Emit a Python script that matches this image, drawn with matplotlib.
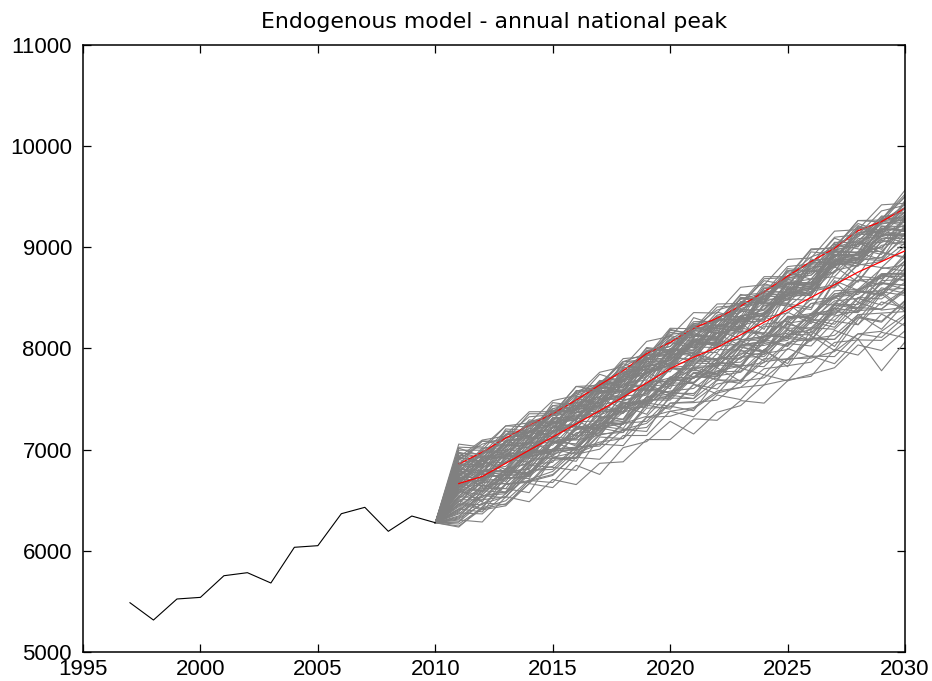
import matplotlib
matplotlib.use("Agg")
import matplotlib.pyplot as plt
import numpy as np

plt.rcParams["font.family"] = ["Liberation Sans", "DejaVu Sans"]

# Observed annual national peak (MW)
years_hist = list(range(1997, 2011))
peak_hist = [5487, 5316, 5524, 5540, 5754, 5784, 5682, 6035, 6051, 6367,
             6430, 6193, 6344, 6278]

# Simulation horizon
years_sim = list(range(2011, 2031))

# Ensemble mean and upper band of the simulated peaks (MW)
sim_mean = [6665, 6735, 6865, 6995, 7125, 7255, 7385, 7520, 7660, 7800,
            7915, 8010, 8135, 8260, 8380, 8505, 8630, 8755, 8860, 8965]
sim_upper = [6858, 6975, 7115, 7240, 7355, 7490, 7640, 7780, 7950, 8060,
             8200, 8300, 8420, 8560, 8715, 8860, 8990, 9165, 9255, 9385]

# Individual simulated paths, as anomalies from the ensemble mean (MW)
sim_anomaly = [
    [40, 130, 10, 90, 190, 70, 100, 210, 170, 80, 190, 270, 160, 230, 300, 220, 280, 370, 290, 250],
    [-150, -60, -200, -130, -30, -160, -240, -110, -170, -310, -200, -240, -360, -270, -260, -420, -310, -380, -470, -400],
    [210, 160, 180, 80, 170, 260, 220, 100, 150, 290, 310, 250, 260, 200, 320, 360, 270, 350, 410, 430],
    [-320, -190, -280, -140, -250, -90, -210, -60, -180, -100, -130, -260, -110, -230, -280, -200, -230, -170, -210, -340],
    [20, 90, 70, -70, 40, 0, 60, -40, -100, 10, 50, -50, 70, -110, 30, 90, -30, 80, -60, 50],
    [330, 260, 370, 230, 210, 280, 240, 300, 280, 340, 250, 400, 290, 430, 320, 470, 370, 510, 410, 600],
    [-80, -180, -90, -220, -130, -260, -120, -50, -210, -100, -250, -150, -300, -170, -350, -220, -390, -260, -430, -380],
    [120, 40, 160, 180, 130, 90, -60, 80, -20, 30, 140, 50, -40, 100, 150, 80, 0, 130, 10, 170],
    [-250, -350, -210, -310, -380, -290, -330, -480, -340, -470, -510, -450, -520, -620, -480, -600, -660, -610, -690, -630],
    [160, 230, 210, 260, 220, 130, 250, 280, 240, 140, 260, 140, 280, 310, 270, 180, 300, 170, 320, 200],
    [-30, 40, 10, 70, 140, 80, -20, 30, 110, 60, 140, 210, 150, 70, 160, 100, 190, 120, 40, 130],
    [-180, -110, -150, -260, -200, -280, -210, -150, -220, -170, -250, -190, -100, -190, -130, -60, -140, -80, -170, -100],
    [60, -10, -110, -60, -140, -90, -170, -100, -10, -90, -40, -110, -200, -140, -230, -160, -250, -200, -290, -230],
    [280, 190, 250, 180, 240, 320, 270, 350, 290, 220, 290, 370, 310, 250, 330, 400, 360, 430, 380, 460],
    [-120, -50, 40, -20, 60, -10, 80, 20, 100, 40, -40, 30, -40, 50, -30, 60, -20, 70, 0, 80],
    [-400, -310, -370, -290, -340, -260, -310, -410, -340, -420, -500, -430, -520, -460, -550, -640, -570, -670, -780, -710],
    [90, 170, 110, 190, 130, 200, 140, 220, 160, 80, 160, 90, 180, 120, 210, 150, 240, 170, 260, 200],
    [-60, -140, -60, -130, -50, -110, -40, -100, -190, -120, -210, -140, -50, -140, -70, -160, -90, -180, -120, -220],
    [240, 320, 250, 170, 240, 180, 80, 160, 90, 170, 100, 0, 90, 30, 120, 50, 140, 70, 160, 90],
    [-220, -140, -50, -130, -60, -140, -70, -160, -80, -170, -90, -180, -110, -200, -130, -220, -160, -260, -190, -280],
    [10, -70, 40, 120, 50, 140, 60, 180, 90, 170, 110, 220, 120, 200, 160, 260, 170, 280, 190, 300],
    [-290, -370, -300, -210, -290, -230, -330, -260, -330, -240, -360, -280, -370, -310, -390, -300, -440, -350, -470, -380],
    [140, 60, -30, 40, -40, 50, -50, 40, -60, 10, -80, 10, -90, -20, -110, -20, -130, -40, -170, -60],
    [-100, -20, -100, -30, -120, -50, -140, -70, -160, -90, -20, -110, -50, -140, -80, -180, -120, -220, -150, -250],
    [190, 120, 200, 280, 220, 300, 240, 160, 240, 180, 260, 200, 280, 230, 310, 260, 340, 280, 370, 310],
    [-40, 40, 130, 70, -20, 60, -10, -100, -30, -110, -50, -130, -70, -150, -90, -180, -110, -200, -140, -230],
    [40, -40, 20, -50, 40, 110, 50, 120, 60, 130, 70, 140, 80, 160, 100, 180, 120, 200, 140, 230],
    [-350, -270, -330, -240, -170, -240, -180, -250, -190, -260, -200, -280, -220, -300, -240, -320, -260, -350, -280, -370],
    [300, 220, 280, 210, 280, 210, 290, 230, 310, 250, 330, 270, 350, 290, 380, 320, 410, 350, 440, 380],
    [-160, -230, -160, -70, -140, -60, -130, -220, -140, -220, -310, -230, -310, -400, -320, -410, -500, -420, -510, -600],
    [70, 150, 80, -10, 60, 0, 110, 30, 90, 40, 130, 30, 150, 80, 140, 60, 200, 100, 190, 150],
    [-260, -160, -90, -180, -60, -150, -80, -140, -40, -150, -60, -160, -50, -180, -70, -200, -90, -190, -130, -220],
    [110, 210, 280, 190, 310, 210, 120, 240, 140, 50, 170, 70, 190, 90, 210, 110, 240, 140, 270, 170],
    [-10, -90, -200, -110, -190, -120, -220, -110, -240, -140, -260, -160, -270, -210, -300, -220, -350, -250, -370, -310],
    [360, 280, 180, 270, 210, 110, 230, 130, 250, 150, 270, 170, 290, 190, 320, 220, 350, 250, 380, 280],
    [-200, -280, -210, -300, -370, -300, -380, -320, -400, -340, -440, -360, -450, -390, -480, -420, -540, -440, -590, -490],
    [30, 110, 220, 140, 220, 160, 260, 160, 280, 180, 280, 220, 310, 250, 340, 280, 370, 310, 400, 340],
    [-130, -210, -140, -30, -140, -40, -110, -30, -120, 0, -110, -180, -100, -190, -70, -180, -60, -170, -70, -140],
    [250, 150, 80, 150, 90, 160, 80, 200, 100, 40, 120, 60, 140, 80, 160, 100, 190, 130, 220, 160],
    [-420, -320, -400, -330, -230, -340, -240, -330, -440, -340, -450, -520, -460, -550, -490, -580, -710, -610, -750, -650],
    [0, 150, -60, 180, -20, 200, -30, 160, -80, 120, 250, 10, 190, -70, 230, 20, 270, -40, 210, 60],
    [170, -30, 120, -80, 100, -120, 60, -150, 80, -200, 40, -130, 120, -180, 70, -240, 30, -300, -60, -200],
    [-70, 60, -120, -240, -50, -260, -60, -220, -20, -280, -110, -330, -150, -380, -190, -430, -230, -520, -320, -600],
    [230, 350, 220, 360, 230, 370, 250, 380, 260, 400, 280, 430, 310, 450, 330, 480, 360, 510, 390, 540],
    [-300, -180, -110, -230, -120, -240, -130, -260, -140, -280, -160, -290, -180, -320, -200, -350, -230, -390, -260, -420],
    [80, 180, 60, 190, 60, -60, 110, -20, 130, 0, 160, 10, 170, 20, 200, 30, 230, 60, 250, 80],
    [-230, -120, -250, -110, 0, -150, -10, -140, 20, -130, 30, -120, 40, -110, 60, -100, 70, -90, 90, -70],
    [150, 260, 130, 30, 170, 40, 180, 60, 210, 80, 230, 100, 250, 120, 270, 140, 300, 170, 330, 200],
    [-50, 60, -80, -190, -40, -200, -60, -220, -70, -240, -100, -260, -120, -290, -140, -320, -180, -350, -210, -380],
    [260, 150, 280, 380, 250, 140, 280, 170, 310, 190, 330, 210, 360, 230, 390, 260, 420, 290, 450, 320],
    [-380, -260, -410, -300, -450, -330, -480, -380, -520, -420, -590, -470, -640, -520, -700, -580, -780, -660, -1080, -900],
    [-20, -150, -60, -240, -120, -300, -170, -350, -220, -400, -270, -460, -330, -520, -380, -590, -450, -660, -520, -740],
    [100, 20, -90, 0, -130, -30, -170, -60, -210, -100, -260, -140, -310, -190, -360, -240, -420, -300, -480, -560],
    [310, 180, 260, 140, 260, 170, 290, 190, 320, 220, 350, 260, 390, 290, 430, 330, 470, 370, 500, 450],
    [-180, -60, -150, -40, -160, -50, -170, -80, -190, -90, -210, -110, -230, -140, -260, -160, -290, -190, -320, -220],
    [50, -60, 60, -40, 90, -20, 110, 0, 130, 20, 150, 40, 170, 70, 200, 90, 230, 120, 260, 150],
    [-90, 0, -120, -10, -140, -30, -160, -60, -180, -80, -210, -110, -240, -130, -270, -160, -300, -190, -340, -230],
    [200, 100, 220, 120, 240, 140, 260, 160, 180, 280, 200, 300, 220, 330, 250, 360, 270, 390, 300, 430],
    [-270, -190, -300, -200, -320, -230, -350, -260, -380, -290, -410, -320, -450, -360, -490, -400, -540, -450, -600, -500],
    [130, 230, 130, 240, 140, 60, 170, 70, 190, 90, 210, 110, 230, 130, 260, 150, 290, 180, 320, 210],
    [-10, 80, 170, 60, 150, 40, 140, 50, 160, 60, 180, 80, 190, 90, 210, 110, 240, 130, 260, 160],
    [-340, -230, -330, -220, -120, -230, -130, -240, -140, -250, -150, -270, -160, -280, -180, -300, -200, -320, -220, -340],
    [80, -20, 90, -10, 100, 0, 120, 10, 130, 30, 150, 40, 160, 60, 180, 80, 200, 100, 230, 120],
    [180, 90, 0, 110, 10, 120, 20, 130, 30, 140, 40, 150, 50, 170, 60, 180, 80, 200, 100, 230],
    [-140, -40, -150, -250, -140, -250, -150, -270, -170, -290, -190, -310, -220, -340, -240, -370, -270, -400, -300, -440],
    [390, 290, 370, 270, 360, 280, 380, 300, 410, 320, 440, 340, 470, 370, 500, 390, 530, 420, 560, 470],
    [-60, 30, -70, 30, -80, 20, -100, 10, -110, 0, -130, -20, -150, -40, -170, -60, -200, -80, -230, -100],
    [-430, -300, -200, -320, -210, -330, -230, -350, -250, -380, -270, -410, -300, -440, -330, -480, -360, -520, -400, -560],
    [20, 120, 220, 130, 240, 140, 250, 150, 270, 170, 290, 190, 310, 210, 340, 240, 370, 270, 400, 300],
    [260, 360, 270, 330, 220, 310, 250, 350, 230, 290, 200, 320, 240, 300, 180, 290, 210, 330, 250, 300],
    [-360, -450, -330, -510, -420, -600, -520, -640, -560, -700, -610, -720, -650, -800, -700, -760, -820, -720, -880, -790],
    [-200, -330, -420, -330, -500, -410, -630, -500, -580, -520, -760, -640, -700, -620, -690, -780, -640, -820, -700, -860],
    [150, 20, 210, 60, 280, 110, 190, 330, 120, 260, 90, 310, 180, 380, 200, 330, 460, 250, 420, 530],
    [-40, 170, -90, 130, 250, 40, 210, -30, 230, 110, -20, 220, 70, 290, 140, 20, 300, 160, 350, 240],
    [90, -100, 60, 220, 0, 170, 300, 90, 250, 40, 190, 350, 160, 30, 280, 120, 400, 230, 70, 330],
    [-210, 20, -140, -280, -50, -200, 30, -160, -10, -250, -90, 80, -120, -300, -60, -210, 40, -180, -330, -120],
    [300, 120, 340, 190, 60, 270, 130, 350, 200, 390, 220, 100, 330, 180, 410, 260, 120, 380, 250, 480],
    [-10, 190, 50, -120, 110, 250, 80, 270, 130, -30, 180, 20, 240, 60, 300, 130, 340, 190, 20, 260],
    [200, 40, 230, 100, 310, 150, 30, 220, 340, 180, 60, 280, 150, 360, 230, 90, 320, 200, 430, 310],
    [-90, 80, -180, 0, 160, -50, 120, -110, 60, 200, 10, 170, -40, 190, 40, -120, 130, 290, 90, 240],
    [110, 280, 150, 300, 130, 40, 230, 90, 280, 120, 320, 190, 50, 280, 150, 350, 210, 60, 310, 390],
    [-250, -80, -290, -160, 0, -220, -90, -310, -140, 20, -200, -60, -330, -150, -20, -260, -120, -380, -190, -30],
    [60, 250, 100, -40, 190, 60, 260, 110, -20, 200, 70, 290, 130, 10, 260, 110, 330, 190, 400, 250],
    [240, 90, 320, 170, 30, 230, 360, 150, 310, 190, 40, 260, 360, 200, 70, 310, 170, 410, 280, 360],
    [-130, 50, -70, 130, -40, 150, 240, 60, 220, 330, 150, 280, 90, 310, 170, 40, 280, 130, 350, 200],
    [20, -150, 80, -60, 140, -30, -180, 60, -70, 120, -40, 190, 30, -120, 170, 20, 250, 80, 300, 150],
    [350, 200, 90, 280, 150, 330, 190, 50, 260, 360, 210, 80, 300, 410, 250, 130, 380, 480, 300, 420],
    [-330, -140, -290, -80, -210, -340, -120, -270, -60, -230, -380, -170, -320, -100, -280, -430, -200, -360, -130, -300],
    [130, -30, 170, 280, 90, 230, 70, 290, 160, 380, 230, 90, 320, 190, 60, 340, 220, 450, 300, 380],
    [-170, -320, -130, 20, -180, -30, -250, -90, -310, -150, 40, -200, -60, -290, -110, -380, -190, -40, -330, -170],
    [70, 230, 320, 140, 260, 110, 0, 200, 350, 180, 300, 140, 370, 230, 100, 330, 200, 440, 270, 150],
    [190, 350, 180, 40, 230, 370, 200, 60, 270, 150, 390, 220, 80, 340, 220, 450, 300, 140, 420, 560],
    [-60, -250, -90, 80, -140, 30, -200, -30, 110, -160, -10, 140, -110, 60, -190, 20, 180, -100, 90, -60],
    [270, 110, 290, 130, 340, 180, 40, 250, 130, 320, 90, 250, 400, 220, 370, 180, 330, 460, 270, 500],
    [-280, -90, -250, -420, -200, -370, -150, -320, -480, -260, -410, -200, -460, -280, -530, -330, -610, -420, -670, -520],
    [0, 200, 60, 250, 110, -20, 180, 50, 230, 100, 300, 140, 20, 260, 130, 380, 190, 310, 120, 350],
    [120, -70, 140, -30, 190, 30, 220, 70, -60, 160, 10, 210, 60, 270, 110, -30, 230, 90, 330, 190],
    [-380, -190, -340, -150, -300, -460, -260, -410, -200, -370, -530, -320, -480, -270, -560, -380, -650, -470, -300, -580],
]

x_ticks = [1995, 2000, 2005, 2010, 2015, 2020, 2025, 2030]
y_ticks = [5000, 6000, 7000, 8000, 9000, 10000, 11000]

W, H = 932, 681
fig = plt.figure(figsize=(W / 100, H / 100), dpi=100)
ax = fig.add_axes([83 / W, 1 - 652 / H, (905 - 83) / W, (652 - 45) / H])

gray = (0.5, 0.5, 0.5)
mean_arr = np.array(sim_mean)
path_years = [years_hist[-1]] + years_sim
split = 84

# Most of the simulated paths
for row in sim_anomaly[:split]:
    ax.plot(path_years, [peak_hist[-1]] + list(mean_arr + np.array(row)),
            color=gray, lw=0.8, zorder=2)

# Upper band, partly covered by the remaining paths
ax.plot(years_sim, sim_upper, color="red", lw=0.9, zorder=2)

for row in sim_anomaly[split:]:
    ax.plot(path_years, [peak_hist[-1]] + list(mean_arr + np.array(row)),
            color=gray, lw=0.8, zorder=2)

ax.plot(years_sim, sim_mean, color="red", lw=0.9, zorder=3)

# Historical peak
ax.plot(years_hist, peak_hist, color="black", lw=0.8, zorder=4)

ax.set_xlim(1995, 2030)
ax.set_ylim(5000, 11000)
ax.set_xticks(x_ticks)
ax.set_yticks(y_ticks)
ax.tick_params(direction="in", top=True, right=True, length=6, width=0.9,
               labelsize=16)
ax.tick_params(axis="x", pad=5)
ax.tick_params(axis="y", pad=8)
for s in ax.spines.values():
    s.set_linewidth(1.1)

ax.set_title("Endogenous model - annual national peak", fontsize=15.8,
             family=["DejaVu Sans"], pad=12)

fig.savefig("out.png", dpi=100)
